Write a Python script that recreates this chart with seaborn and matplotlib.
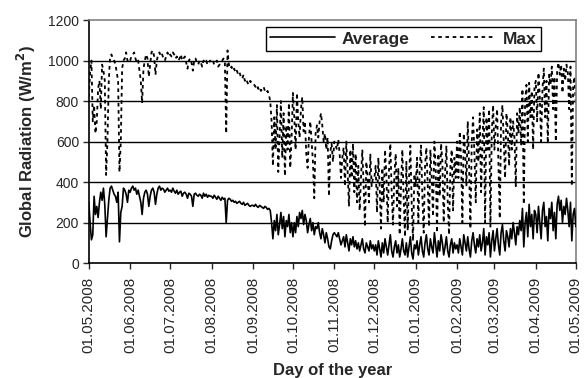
import numpy as np
import pandas as pd
import seaborn as sns
import matplotlib.pyplot as plt
import matplotlib.dates as mdates

# daily values, 01.05.2008 - 01.05.2009 (W/m2), read month by month
avg_may08 = [300, 200, 115, 140, 330, 240, 280, 225, 300, 350, 310, 370, 290, 130, 220, 310, 370, 380, 360, 340,
             330, 300, 350, 105, 250, 280, 370, 360, 340, 300, 360]
avg_jun = [350, 370, 380, 360, 370, 340, 360, 330, 300, 240, 320, 350, 360, 340, 280, 330, 360, 370, 350, 290,
           340, 370, 380, 360, 370, 365, 350, 360, 370, 355]
avg_jul = [360, 350, 370, 355, 345, 360, 340, 350, 355, 330, 345, 350, 340, 320, 345, 340, 330, 280, 340, 345,
           335, 330, 340, 335, 320, 345, 330, 340, 325, 335, 330]
avg_aug = [330, 320, 335, 325, 315, 330, 320, 310, 325, 315, 320, 200, 310, 320, 315, 305, 310, 300, 305, 295,
           300, 305, 295, 290, 300, 285, 290, 295, 285, 280, 285]
avg_sep = [285, 280, 290, 280, 275, 285, 280, 275, 270, 280, 275, 265, 270, 260, 200, 120, 210, 160, 240, 140,
           190, 250, 170, 230, 130, 210, 180, 240, 150, 200]
avg_oct = [130, 200, 150, 230, 180, 250, 220, 260, 190, 240, 210, 150, 190, 220, 160, 200, 140, 180, 170, 200,
           150, 120, 170, 140, 100, 150, 120, 80, 70, 110, 140]
avg_nov = [150, 140, 130, 150, 120, 90, 110, 130, 80, 140, 100, 60, 120, 90, 130, 80, 110, 70, 100, 60,
           90, 120, 70, 50, 100, 80, 60, 110, 70, 90]
avg_dec = [60, 90, 40, 110, 70, 30, 100, 50, 120, 80, 40, 90, 140, 60, 30, 80, 110, 50, 90, 30,
           70, 120, 60, 40, 100, 30, 80, 130, 50, 20, 90]
avg_jan = [70, 110, 40, 90, 130, 60, 30, 100, 140, 70, 40, 120, 80, 50, 150, 90, 30, 110, 60, 140,
           100, 40, 80, 130, 60, 30, 90, 120, 50, 100, 70]
avg_feb = [90, 50, 120, 80, 40, 140, 100, 60, 130, 70, 30, 110, 150, 90, 50, 120, 80, 140, 60, 100,
           170, 40, 130, 90, 150, 30, 110, 160]
avg_mar = [60, 120, 170, 90, 40, 150, 190, 110, 60, 160, 130, 80, 170, 120, 200, 150, 90, 180, 140, 210,
           160, 270, 80, 200, 250, 130, 290, 180, 240, 120, 260]
avg_apr = [240, 150, 280, 200, 120, 260, 300, 180, 230, 110, 270, 220, 300, 160, 250, 120, 290, 330, 260, 310,
           200, 280, 240, 320, 260, 180, 300, 110, 240, 270]
avg_may09 = [180]

max_may08 = [820, 940, 1000, 700, 780, 640, 700, 860, 900, 760, 980, 950, 900, 435, 600, 900, 1020, 1030, 1010, 1000,
             980, 940, 900, 450, 600, 960, 1000, 1010, 1040, 1000, 990]
max_jun = [1000, 1020, 1030, 1040, 1010, 990, 1000, 950, 900, 790, 960, 1000, 1030, 1010, 920, 980, 1040, 1050, 1020, 930,
           1000, 1030, 1040, 1020, 1030, 1010, 1000, 1020, 1040, 1020]
max_jul = [1030, 1020, 1040, 1030, 1010, 1020, 1000, 1010, 1030, 1000, 1010, 1020, 990, 960, 1000, 1010, 990, 950, 1000, 1010,
           990, 980, 1000, 990, 970, 1000, 990, 1000, 980, 990, 1000]
max_aug = [990, 1000, 980, 990, 1000, 970, 980, 990, 1000, 1010, 990, 640, 1050, 980, 960, 970, 950, 960, 940, 950,
           930, 940, 920, 910, 930, 900, 910, 890, 880, 900, 890]
max_sep = [890, 880, 870, 880, 860, 870, 850, 860, 870, 850, 840, 850, 830, 800, 700, 480, 720, 560, 780, 450,
           620, 800, 520, 740, 430, 680, 560, 790, 470, 620]
max_oct = [840, 720, 560, 840, 700, 620, 760, 820, 650, 700, 540, 470, 620, 700, 600, 500, 320, 640, 680, 620,
           700, 740, 680, 600, 640, 560, 620, 330, 550, 590, 500]
max_nov = [600, 580, 560, 610, 540, 420, 520, 570, 380, 600, 450, 280, 560, 420, 590, 350, 540, 300, 480, 260,
           420, 560, 380, 180, 500, 420, 300, 540, 380, 420]
max_dec = [420, 480, 250, 520, 380, 170, 470, 300, 560, 440, 200, 460, 590, 350, 190, 430, 540, 280, 470, 140,
           380, 560, 320, 130, 500, 160, 420, 580, 290, 110, 440]
max_jan = [380, 520, 200, 470, 580, 330, 150, 480, 570, 390, 180, 560, 420, 230, 600, 470, 150, 540, 330, 590,
           500, 200, 440, 580, 300, 140, 480, 560, 260, 520, 420]
max_feb = [600, 420, 650, 520, 200, 640, 560, 380, 700, 480, 170, 600, 720, 540, 300, 660, 500, 740, 350, 600,
           770, 200, 720, 560, 760, 180, 640, 780]
max_mar = [560, 680, 760, 500, 220, 700, 780, 600, 420, 740, 650, 480, 720, 560, 700, 620, 380, 740, 640, 770,
           580, 860, 290, 800, 880, 600, 890, 720, 850, 560, 870]
max_apr = [900, 700, 940, 820, 600, 860, 960, 720, 900, 590, 930, 880, 970, 760, 920, 600, 950, 990, 930, 980,
           840, 960, 900, 980, 940, 760, 970, 380, 880, 920]
max_may09 = [780]

average = (avg_may08 + avg_jun + avg_jul + avg_aug + avg_sep + avg_oct + avg_nov + avg_dec
           + avg_jan + avg_feb + avg_mar + avg_apr + avg_may09)
maximum = (max_may08 + max_jun + max_jul + max_aug + max_sep + max_oct + max_nov + max_dec
           + max_jan + max_feb + max_mar + max_apr + max_may09)
days = pd.date_range("2008-05-01", "2009-05-01", freq="D")

df = pd.DataFrame({"day": days, "Average": average, "Max": maximum})

sns.set_style("white")
plt.rcParams["font.family"] = ["Liberation Sans", "DejaVu Sans"]

fig = plt.figure(figsize=(5.84, 3.78), dpi=100)
ax = fig.add_axes([0.152, 0.304, 0.834, 0.643])

for y in [200, 400, 600, 800, 1000]:
    ax.axhline(y, color="black", linewidth=1.0, zorder=1)

sns.lineplot(data=df, x="day", y="Average", ax=ax, color="black", linewidth=1.2,
             label="Average", zorder=3)
sns.lineplot(data=df, x="day", y="Max", ax=ax, color="black", linewidth=1.3,
             linestyle=(0, (2, 2)), label="Max", zorder=2)

ax.set_ylim(0, 1200)
ax.set_yticks(range(0, 1201, 200))
ax.set_xlim(days[0], days[-1])
ax.xaxis.set_major_locator(mdates.MonthLocator())
ax.xaxis.set_major_formatter(mdates.DateFormatter("%d.%m.%Y"))
ax.tick_params(axis="x", labelrotation=90, labelsize=11, length=4, width=1, direction="out", bottom=True, pad=6)
ax.tick_params(axis="y", labelsize=10, length=4, width=1, direction="out", left=True, pad=3)

ax.set_xlabel("Day of the year", fontsize=12, fontweight="bold", labelpad=7)
ax.set_ylabel("Global Radiation (W/m$^\\mathbf{2}$)", fontsize=12, fontweight="bold", labelpad=7)

for side in ["left", "bottom"]:
    ax.spines[side].set_color("black")
    ax.spines[side].set_linewidth(1.2)
for side in ["top", "right"]:
    ax.spines[side].set_color("#808080")
    ax.spines[side].set_linewidth(1.2)

leg = ax.legend(loc="upper left", bbox_to_anchor=(0.363, 0.971), borderaxespad=0,
                ncol=2, frameon=True, fancybox=False, edgecolor="black", handlelength=3.75,
                borderpad=0.25, handletextpad=0.4, columnspacing=1.2,
                prop={"weight": "bold", "size": 12.5})
leg.get_frame().set_linewidth(1.0)
leg.get_frame().set_alpha(1)

fig.savefig("out.png", dpi=100)
